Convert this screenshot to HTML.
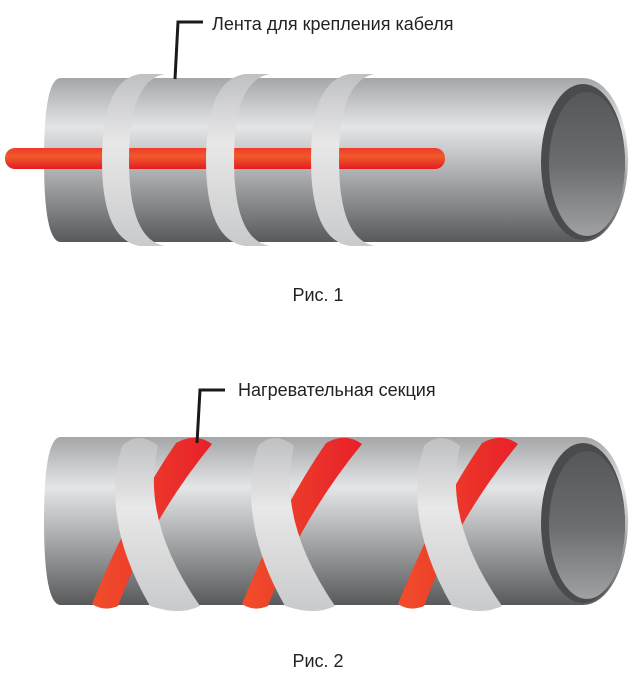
<!DOCTYPE html>
<html><head><meta charset="utf-8"><style>
html,body{margin:0;padding:0;background:#fff;}
svg{display:block}
text{font-family:"Liberation Sans",sans-serif;fill:#222;}
</style></head><body>
<svg width="636" height="682" viewBox="0 0 636 682" xmlns="http://www.w3.org/2000/svg">
<defs>
<linearGradient id="pipe" x1="0" y1="0" x2="0" y2="1">
<stop offset="0" stop-color="#a5a6a8"/><stop offset="0.3" stop-color="#e4e5e6"/><stop offset="0.55" stop-color="#b4b5b7"/><stop offset="1" stop-color="#58595b"/>
</linearGradient>
<linearGradient id="inner" x1="0" y1="0" x2="0" y2="1">
<stop offset="0" stop-color="#555759"/><stop offset="0.5" stop-color="#6a6c6e"/><stop offset="1" stop-color="#a0a1a3"/>
</linearGradient>
<linearGradient id="band" x1="0" y1="0" x2="0" y2="1">
<stop offset="0" stop-color="#bfc0c2"/><stop offset="0.4" stop-color="#e8e8e9"/><stop offset="1" stop-color="#c9cacb"/>
</linearGradient>
<linearGradient id="red" x1="0" y1="0" x2="0" y2="1">
<stop offset="0" stop-color="#ee3a2a"/><stop offset="0.4" stop-color="#f15a2b"/><stop offset="1" stop-color="#e21c23"/>
</linearGradient>
<linearGradient id="red2" x1="0" y1="0" x2="1" y2="0">
<stop offset="0" stop-color="#f04e2a"/><stop offset="1" stop-color="#e8202a"/>
</linearGradient>
</defs>

<!-- Pipe 1 -->
<path d="M60,78 L583,78 L583,242 L60,242 Q44,240 44,160 Q44,80 60,78 Z" fill="url(#pipe)"/>
<rect x="5" y="148" width="440" height="21" rx="10" fill="url(#red)"/>
<g fill="url(#band)">
<path d="M140,74 Q102,80 102,160 Q102,240 140,246 L165,246 Q129,240 129,160 Q129,80 165,74 Z"/>
<path d="M245,74 Q206,80 206,160 Q206,240 245,246 L270,246 Q234,240 234,160 Q234,80 270,74 Z"/>
<path d="M350,74 Q311,80 311,160 Q311,240 350,246 L375,246 Q339,240 339,160 Q339,80 375,74 Z"/>
</g>
<ellipse cx="583" cy="160" rx="45" ry="82" fill="url(#pipe)"/>
<ellipse cx="583" cy="162" rx="42" ry="78" fill="#4a4b4d"/>
<ellipse cx="587" cy="164" rx="38" ry="72" fill="url(#inner)"/>
<polyline points="175,79 178,22 203,22" fill="none" stroke="#1a1a1a" stroke-width="3"/>
<text x="212" y="30" font-size="18">Лента для крепления кабеля</text>
<text x="318" y="301" font-size="18" text-anchor="middle">Рис. 1</text>

<!-- Pipe 2 -->
<path d="M60,437 L583,437 L583,605 L60,605 Q44,603 44,521 Q44,439 60,437 Z" fill="url(#pipe)"/>
<g fill="url(#red2)">
<path d="M176,443 Q195,432 212,444 Q150,520 118,606 Q104,612 92,604 Q130,510 176,443 Z"/>
<path d="M326,443 Q345,432 362,444 Q300,520 268,606 Q254,612 242,604 Q280,510 326,443 Z"/>
<path d="M482,443 Q501,432 518,444 Q456,520 424,606 Q410,612 398,604 Q436,510 482,443 Z"/>
</g>
<g fill="url(#band)">
<path d="M122,446 Q138,430 158,446 Q140,520 200,606 Q180,616 150,606 Q100,520 122,446 Z"/>
<path d="M258,446 Q274,430 294,446 Q276,520 335,606 Q315,616 285,606 Q236,520 258,446 Z"/>
<path d="M424,446 Q440,430 460,446 Q442,520 502,606 Q482,616 452,606 Q402,520 424,446 Z"/>
</g>
<ellipse cx="583" cy="521" rx="45" ry="84" fill="url(#pipe)"/>
<ellipse cx="583" cy="523" rx="42" ry="80" fill="#4a4b4d"/>
<ellipse cx="587" cy="525" rx="38" ry="74" fill="url(#inner)"/>
<polyline points="197,443 200,390 225,390" fill="none" stroke="#1a1a1a" stroke-width="3"/>
<text x="238" y="396" font-size="18">Нагревательная секция</text>
<text x="318" y="667" font-size="18" text-anchor="middle">Рис. 2</text>
</svg>
</body></html>
